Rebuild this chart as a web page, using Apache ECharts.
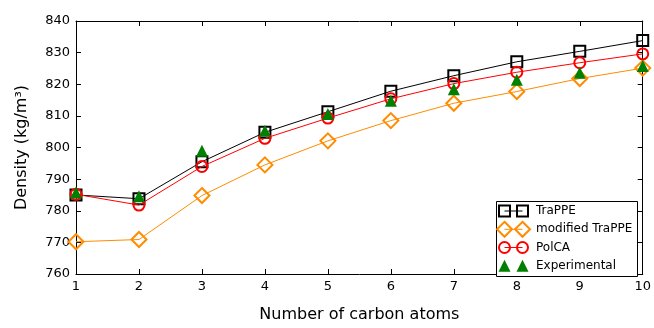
<!DOCTYPE html>
<html>
<head>
<meta charset="utf-8">
<script src="https://cdn.jsdelivr.net/npm/echarts@6/dist/echarts.min.js"></script>
<style>html,body{margin:0;padding:0;background:#fff}#c{width:654px;height:328px}</style>
</head>
<body>
<div id="c"></div>
<script>
var carbonAtoms = [1, 2, 3, 4, 5, 6, 7, 8, 9, 10];
var trappe = [785.0, 783.8, 795.5, 804.8, 811.3, 817.8, 822.7, 827.1, 830.4, 833.8];
var modifiedTrappe = [770.2, 770.9, 784.8, 794.5, 802.1, 808.5, 814.0, 817.7, 821.8, 825.1];
var polca = [785.2, 781.8, 794.0, 802.9, 809.3, 815.4, 820.2, 823.8, 826.8, 829.6];
var experimental = [785.8, 784.6, 799.0, 805.3, 810.6, 814.8, 818.4, 821.4, 823.6, 825.8];
var yTicks = [760, 770, 780, 790, 800, 810, 820, 830, 840];
var seriesNames = ['TraPPE', 'modified TraPPE', 'PolCA', 'Experimental'];

function pairs(ys) { return carbonAtoms.map(function (x, i) { return [x, ys[i]]; }); }

var FONT = 'DejaVu Sans';
var styles = [
  { color: '#000000', symbol: 'rect', size: 11, line: true, fill: false },
  { color: '#ff8c00', symbol: 'diamond', size: 15, line: true, fill: false },
  { color: '#ff0000', symbol: 'circle', size: 11, line: true, fill: false },
  { color: '#008000', symbol: 'triangle', size: 12, line: false, fill: true }
];
var dataSets = [trappe, modifiedTrappe, polca, experimental];

var series = dataSets.map(function (d, i) {
  var s = styles[i];
  return {
    name: seriesNames[i], type: 'line', data: pairs(d),
    symbol: s.symbol, symbolSize: s.size, showSymbol: true,
    clip: false, z: 2 + i,
    lineStyle: s.line ? { color: s.color, width: 1 } : { opacity: 0, width: 0 },
    itemStyle: s.fill ? { color: s.color, borderWidth: 0 } : { color: 'rgba(0,0,0,0)', borderColor: s.color, borderWidth: 2 },
    emphasis: { disabled: true }
  };
});

// legend drawn as graphic (two markers per entry, matplotlib style)
var legendEls = [{
  type: 'rect', shape: { x: 496.5, y: 201.5, width: 141, height: 75 },
  style: { fill: '#fff', stroke: '#000', lineWidth: 1 }, z: 100
}];
var rowsY = [211, 229.3, 247.5, 265.7];
var mx = [504.5, 522.5];
function markerEl(s, cx, cy) {
  var st = s.fill ? { fill: s.color, stroke: null } : { fill: 'none', stroke: s.color, lineWidth: 2 };
  var h = s.size / 2;
  if (s.symbol === 'rect') return { type: 'rect', shape: { x: cx - h, y: cy - h, width: s.size, height: s.size }, style: st, z: 102 };
  if (s.symbol === 'circle') return { type: 'circle', shape: { cx: cx, cy: cy, r: h }, style: st, z: 102 };
  if (s.symbol === 'diamond') return { type: 'polygon', shape: { points: [[cx, cy - h], [cx + h, cy], [cx, cy + h], [cx - h, cy]] }, style: st, z: 102 };
  return { type: 'polygon', shape: { points: [[cx, cy - h], [cx + h, cy + h], [cx - h, cy + h]] }, style: st, z: 102 };
}
styles.forEach(function (s, i) {
  var y = rowsY[i];
  if (s.line) legendEls.push({ type: 'line', shape: { x1: mx[0], y1: y, x2: mx[1], y2: y }, style: { stroke: s.color, lineWidth: 1 }, z: 101 });
  legendEls.push(markerEl(s, mx[0], y));
  legendEls.push(markerEl(s, mx[1], y));
  legendEls.push({ type: 'text', x: 536, y: y, style: { text: seriesNames[i], font: '12px "' + FONT + '"', fill: '#000', verticalAlign: 'middle' }, z: 102 });
});

var axisLine = { show: true, lineStyle: { color: '#000', width: 1 } };
var tick = { show: true, inside: true, length: 5, lineStyle: { color: '#000', width: 1 } };

var option = {
  animation: false,
  backgroundColor: '#fff',
  textStyle: { fontFamily: FONT },
  grid: { left: 76, right: 11, top: 21, bottom: 46, containLabel: false },
  xAxis: [{
    type: 'value', min: 1, max: 10, interval: 1,
    name: 'Number of carbon atoms', nameLocation: 'middle', nameGap: 33,
    nameTextStyle: { fontSize: 16, color: '#000', fontFamily: FONT },
    axisLine: axisLine, axisTick: tick, splitLine: { show: false },
    axisLabel: { fontSize: 13, color: '#000', margin: 6, fontFamily: FONT }
  }, {
    type: 'value', min: 1, max: 10, interval: 1, position: 'top',
    axisLine: axisLine, axisTick: tick, splitLine: { show: false }, axisLabel: { show: false }
  }],
  yAxis: [{
    type: 'value', min: yTicks[0], max: yTicks[yTicks.length - 1], interval: 10,
    name: 'Density (kg/m³)', nameLocation: 'middle', nameGap: 46, nameRotate: 90,
    nameTextStyle: { fontSize: 16, color: '#000', fontFamily: FONT },
    axisLine: axisLine, axisTick: tick, splitLine: { show: false },
    axisLabel: { fontSize: 13, color: '#000', margin: 6, fontFamily: FONT }
  }, {
    type: 'value', min: yTicks[0], max: yTicks[yTicks.length - 1], interval: 10, position: 'right',
    axisLine: axisLine, axisTick: tick, splitLine: { show: false }, axisLabel: { show: false }
  }],
  series: series,
  graphic: legendEls
};
var chart = echarts.init(document.getElementById('c'), null, { renderer: 'canvas' });
chart.setOption(option);
</script>
</body>
</html>
